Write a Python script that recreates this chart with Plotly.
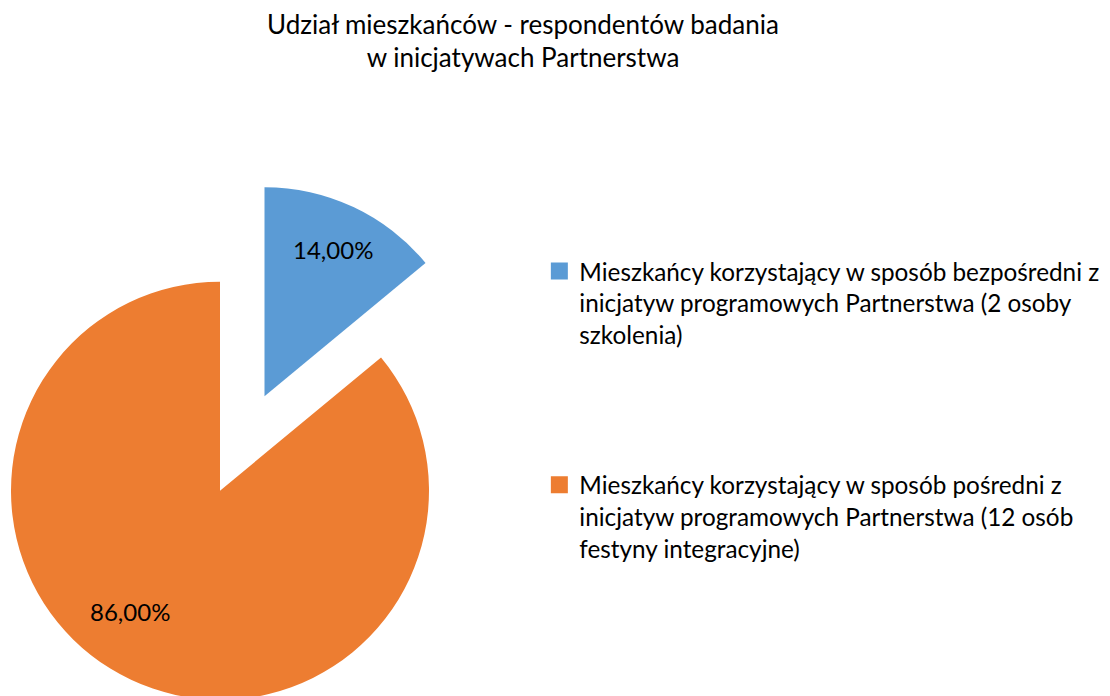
import math
import plotly.graph_objects as go

# ---- data ----
labels = [
    "Mieszkańcy korzystający w sposób bezpośredni z<br>inicjatyw programowych Partnerstwa (2 osoby<br>szkolenia)",
    "Mieszkańcy korzystający w sposób pośredni z<br>inicjatyw programowych Partnerstwa (12 osób<br>festyny integracyjne)",
]
values = [14, 86]
colors = ["#5B9BD5", "#ED7D31"]
title_text = "Udział mieszkańców - respondentów badania<br>w inicjatywach Partnerstwa"

# ---- layout geometry (page pixels; the page body adds an 8px offset) ----
W, H = 1110, 696
OFF = 8
FONT = "Lato"
R = 209                          # pie radius (px)
CX, CY = 220 - OFF, 490.7 - OFF  # pie centre in figure px
PULL = 0.5                       # explode fraction of the first slice

def dom(cx, cy, r):
    return dict(x=[(cx - r) / W, (cx + r) / W],
                y=[1 - (cy + r) / H, 1 - (cy - r) / H])

def to_paper(px, py):
    return px / W, 1 - py / H

total = sum(values)
# explode direction = bisector of first slice (clockwise from 12 o'clock)
half = math.pi * values[0] / total
bx = CX + PULL * R * math.sin(half)
by = CY - PULL * R * math.cos(half)

transparent = "rgba(0,0,0,0)"
fig = go.Figure()

# legend-only carriers (tiny, hidden beneath the orange slice)
for i in range(2):
    fig.add_trace(go.Pie(
        labels=[labels[i]], values=[values[i]], sort=False,
        marker=dict(colors=[colors[i]], line=dict(color=[colors[i]], width=5)),
        textinfo="none", hoverinfo="skip",
        domain=dict(x=[0.11, 0.1105], y=[0.3, 0.3008]),
        legendgroup=f"g{i}", showlegend=True,
    ))

# main (orange) slice
fig.add_trace(go.Pie(
    labels=labels, values=values, sort=False, direction="clockwise", rotation=0,
    marker=dict(colors=[transparent, colors[1]], line=dict(width=0)),
    textinfo="none",
    domain=dom(CX, CY, R), showlegend=False,
))
# exploded (blue) slice
fig.add_trace(go.Pie(
    labels=labels, values=values, sort=False, direction="clockwise", rotation=0,
    marker=dict(colors=[colors[0], transparent], line=dict(width=0)),
    textinfo="none",
    domain=dom(bx, by, R), showlegend=False,
))

# percentage data labels (Excel-style placement)
def pct(v):
    return f"{v / total * 100:.2f}%".replace(".", ",")

label_specs = [
    (bx, by, half, 0.775, values[0]),                                  # blue slice
    (CX, CY, 2 * half + math.pi * values[1] / total + math.radians(11.6), 0.72, values[1]),
]
annotations = []
for cx, cy, ang, frac, v in label_specs:
    px = cx + frac * R * math.sin(ang)
    py = cy - frac * R * math.cos(ang)
    ax_, ay_ = to_paper(px, py)
    annotations.append(dict(x=ax_, y=ay_, xref="paper", yref="paper",
                            text=pct(v), showarrow=False,
                            xanchor="center", yanchor="middle",
                            font=dict(family=FONT, size=24, color="black")))

fig.update_layout(
    width=W, height=H,
    margin=dict(l=0, r=0, t=0, b=0),
    paper_bgcolor="white", plot_bgcolor="white",
    separators=", ",
    font=dict(family=FONT, size=24, color="black"),
    title=dict(text=title_text, x=(523 - OFF) / W, xanchor="center",
               yref="container", y=1 - 25.5 / H, yanchor="top",
               font=dict(family=FONT, size=26, color="black")),
    legend=dict(x=531.35 / W, y=1 - 240.8 / H, xanchor="left", yanchor="top",
                traceorder="grouped", tracegroupgap=116, valign="top",
                font=dict(family=FONT, size=24.3, color="black"),
                bgcolor="rgba(0,0,0,0)", borderwidth=0),
    annotations=annotations,
)

fig.write_html("out.html")
